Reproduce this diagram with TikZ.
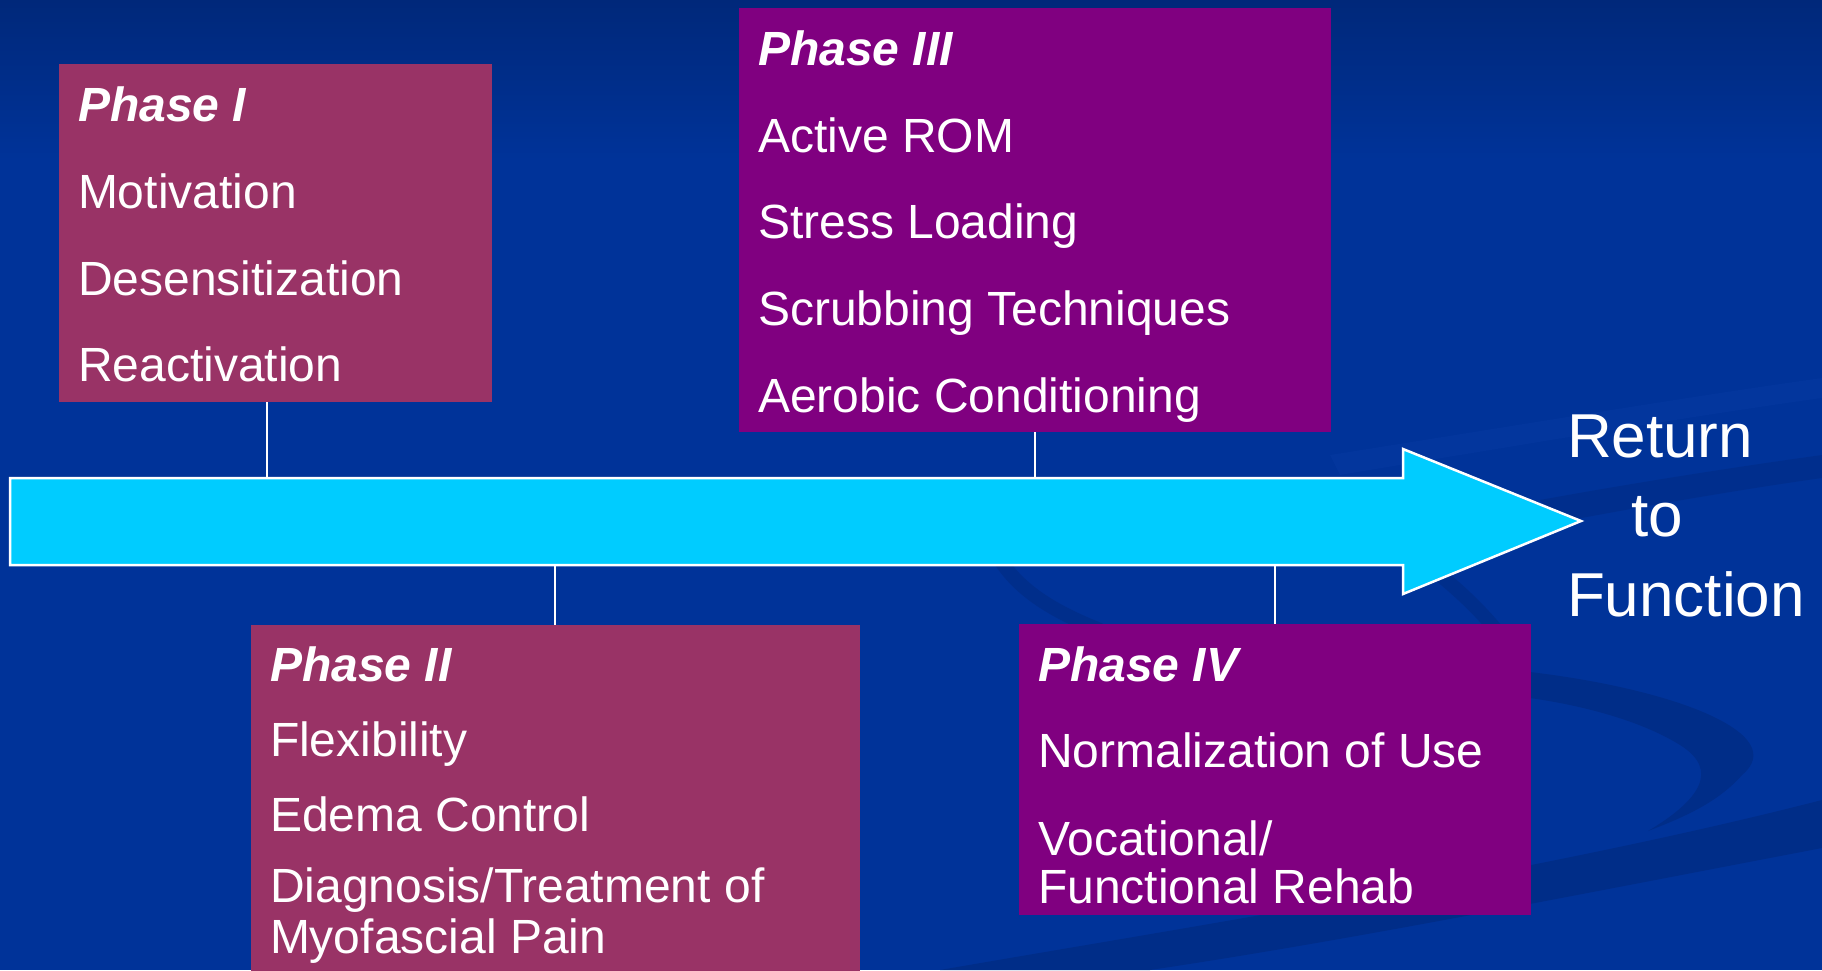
\documentclass[tikz,border=0pt]{standalone}
\usepackage{fontspec}
\setmainfont{Liberation Sans}
\usetikzlibrary{calc}
\definecolor{bgblue}{HTML}{003399}
\definecolor{bgtop}{HTML}{00287A}
\definecolor{bgdark}{HTML}{002D88}
\definecolor{bglight}{HTML}{0538A0}
\definecolor{rosebox}{HTML}{993366}
\definecolor{purplebox}{HTML}{800080}
\definecolor{arrowcyan}{HTML}{00CCFF}
\tikzset{
  phasebox/.style={draw=none, inner sep=0pt, outer sep=0pt, anchor=north west},
  itemtext/.style={anchor=base west, inner sep=0pt, outer sep=0pt, text=white,
    font=\fontsize{48}{50}\selectfont},
  headtext/.style={itemtext, font=\fontsize{48}{50}\selectfont\bfseries\itshape},
  goaltext/.style={anchor=base west, inner sep=0pt, outer sep=0pt, text=white,
    font=\fontsize{62}{64}\selectfont},
  conn/.style={draw=white, line width=2pt},
}
\begin{document}
\begin{tikzpicture}[x=1pt,y=-1pt]
\useasboundingbox (0,0) rectangle (1822,970);
% background
\fill[bgblue] (0,0) rectangle (1822,970);
\shade[top color=bgtop, bottom color=bgblue] (0,0) rectangle (1822,160);
% subtle swooshes
\fill[bglight, opacity=0.6] (1330,455) .. controls (1550,420) and (1700,395) .. (1822,378)
  -- (1822,398) .. controls (1700,415) and (1550,440) .. (1340,475) -- cycle;
\fill[bgdark, opacity=0.7] (1540,500) .. controls (1650,480) and (1750,465) .. (1822,455)
  -- (1822,478) .. controls (1750,488) and (1650,505) .. (1560,522) -- cycle;
\fill[bgdark] (940,970) .. controls (1200,925) and (1550,870) .. (1822,800)
  -- (1822,848) .. controls (1550,900) and (1350,940) .. (1150,970) -- cycle;
\fill[bgdark] (1530,672) .. controls (1680,690) and (1790,735) .. (1742,775)
  .. controls (1720,800) and (1690,815) .. (1648,831)
  .. controls (1700,800) and (1720,770) .. (1680,745)
  .. controls (1640,720) and (1580,705) .. (1530,698) -- cycle;
\draw[bgdark, line width=14pt, opacity=0.8] (1000,560) .. controls (1020,590) and (1050,610) .. (1100,630);
\draw[bgdark, line width=14pt, opacity=0.8] (1440,575) .. controls (1470,600) and (1490,620) .. (1520,660);

% timeline arrow
\filldraw[fill=arrowcyan, draw=white, line width=2.5pt, line join=miter]
  (10,478) -- (1403,478) -- (1403,449) -- (1581,521) -- (1403,594) -- (1403,565) -- (10,565) -- cycle;
\coordinate (t1) at (267,478);
\coordinate (t3) at (1035,478);
\coordinate (t2) at (555,565);
\coordinate (t4) at (1275,565);

% boxes
\node[phasebox, fill=rosebox, minimum width=433pt, minimum height=338pt] (p1) at (59,64) {};
\node[phasebox, fill=purplebox, minimum width=592pt, minimum height=424pt] (p3) at (739,8) {};
\node[phasebox, fill=rosebox, minimum width=609pt, minimum height=360pt] (p2) at (251,625) {};
\node[phasebox, fill=purplebox, minimum width=512pt, minimum height=291pt] (p4) at (1019,624) {};

% connectors
\draw[conn] (t1 |- p1.south) -- (t1);
\draw[conn] (t3 |- p3.south) -- (t3);
\draw[conn] (t2) -- (t2 |- p2.north);
\draw[conn] (t4) -- (t4 |- p4.north);

% Phase I text
\node[headtext] (h1) at (78,121) {Phase I};
\node[itemtext] (i1a) at (78,208) {Motivation};
\node[itemtext] (i1b) at (78,295) {Desensitization};
\node[itemtext] (i1c) at (78,381) {Reactivation};

% Phase III text
\node[headtext] (h3) at (758,65) {Phase III};
\node[itemtext] (i3a) at (758,152) {Active ROM};
\node[itemtext] (i3b) at (758,238) {Stress Loading};
\node[itemtext] (i3c) at (758,325) {Scrubbing Techniques};
\node[itemtext] (i3d) at (758,412) {Aerobic Conditioning};

% Phase II text
\node[headtext] (h2) at (270,681) {Phase II};
\node[itemtext] (i2a) at (270,756) {Flexibility};
\node[itemtext] (i2b) at (270,831) {Edema Control};
\node[itemtext] (i2c) at (270,902) {Diagnosis/Treatment of};
\node[itemtext] (i2d) at (270,953) {Myofascial Pain};

% Phase IV text
\node[headtext] (h4) at (1038,681) {Phase IV};
\node[itemtext] (i4a) at (1038,767) {Normalization of Use};
\node[itemtext] (i4b) at (1038,855) {Vocational/};
\node[itemtext] (i4c) at (1038,903) {Functional Rehab};

% goal text
\node[goaltext] (g1) at (1567,457) {Return};
\node[goaltext] (g2) at (1631,536) {to};
\node[goaltext] (g3) at (1567,616) {Function};
\end{tikzpicture}
\end{document}
